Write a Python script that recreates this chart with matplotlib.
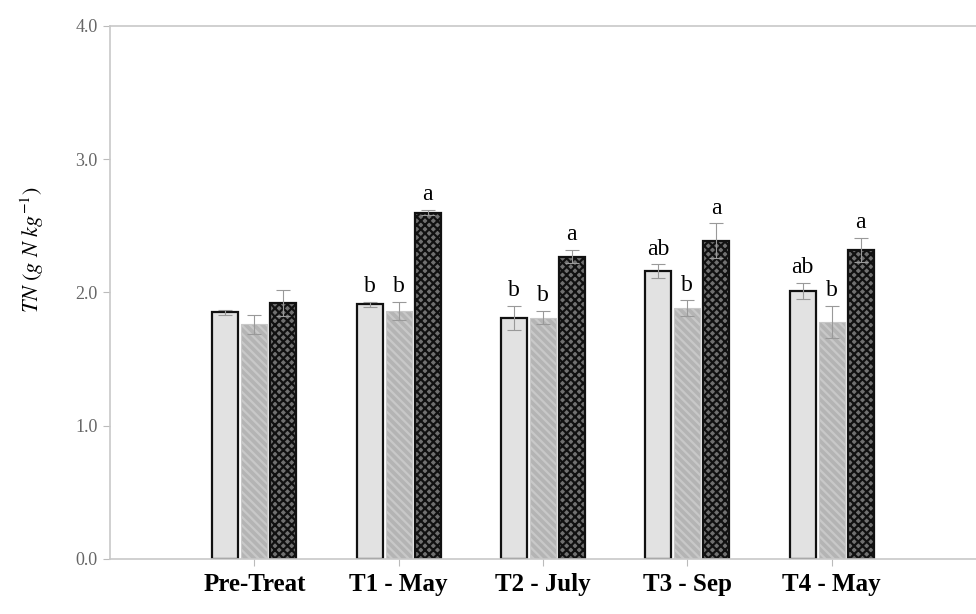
import numpy as np
import matplotlib
matplotlib.use("Agg")
import matplotlib.pyplot as plt

plt.rcParams['font.family'] = ['Liberation Serif', 'DejaVu Serif']
plt.rcParams['mathtext.fontset'] = 'stix'
plt.rcParams['hatch.color'] = '#111111'
plt.rcParams['hatch.linewidth'] = 1.6

# data
periods = ["Pre-Treat", "T1 - May", "T2 - July", "T3 - Sep", "T4 - May"]
trt1 = [1.85, 1.91, 1.81, 2.16, 2.01]
trt2 = [1.76, 1.86, 1.81, 1.88, 1.78]
trt3 = [1.92, 2.60, 2.27, 2.39, 2.32]
err1 = [0.02, 0.02, 0.09, 0.05, 0.06]
err2 = [0.07, 0.07, 0.05, 0.06, 0.12]
err3 = [0.10, 0.02, 0.05, 0.13, 0.09]
lett1 = ["", "b", "b", "ab", "ab"]
lett2 = ["", "b", "b", "b", "b"]
lett3 = ["", "a", "a", "a", "a"]

fig = plt.figure(figsize=(9.76, 6.14), dpi=100)
ax = fig.add_axes([0.1127, 0.0896, 0.8873, 0.8681])

x = np.arange(len(periods))
w = 0.18
step = 0.2

series = [
    (trt1, err1, lett1, dict(color='#e2e2e2', edgecolor='#111111', linewidth=1.6)),
    (trt2, err2, lett2, dict(color='#b4b4b4', edgecolor='#c8c8c8', linewidth=0.8, hatch='\\\\\\\\')),
    (trt3, err3, lett3, dict(color='#707070', edgecolor='#111111', linewidth=1.6, hatch='xxxx')),
]

for i, (vals, errs, lets, style) in enumerate(series):
    xs = x + (i - 1) * step
    ax.bar(xs, vals, width=w, zorder=2, **style)
    ax.errorbar(xs, vals, yerr=errs, fmt='none', ecolor='#999999',
                elinewidth=0.8, capsize=5, capthick=0.8, zorder=3)
    for xi, v, e, t in zip(xs, vals, errs, lets):
        if t:
            ax.text(xi, v + e + 0.035, t, ha='center', va='bottom', fontsize=17)

ax.set_xlim(-1.0, 5.0)
ax.set_ylim(0, 4.0)
ax.set_yticks([0.0, 1.0, 2.0, 3.0, 4.0])
ax.set_yticklabels(["0.0", "1.0", "2.0", "3.0", "4.0"], color='#666666', fontsize=13)
ax.set_xticks(x)
ax.set_xticklabels(periods, fontsize=18, fontweight='bold')
ax.tick_params(axis='both', color='#bbbbbb', length=5, width=0.8)
ax.tick_params(axis='y', pad=4)
ax.tick_params(axis='x', pad=5)

for s in ['left', 'top', 'bottom']:
    ax.spines[s].set_color('#c8c8c8')
    ax.spines[s].set_linewidth(1.2)
ax.spines['right'].set_visible(False)

ax.set_ylabel(r"$TN\ (g\ N\ kg^{-1})$", fontsize=16)
ax.yaxis.set_label_coords(-0.074, 0.58)

fig.savefig("out.png", dpi=100)
